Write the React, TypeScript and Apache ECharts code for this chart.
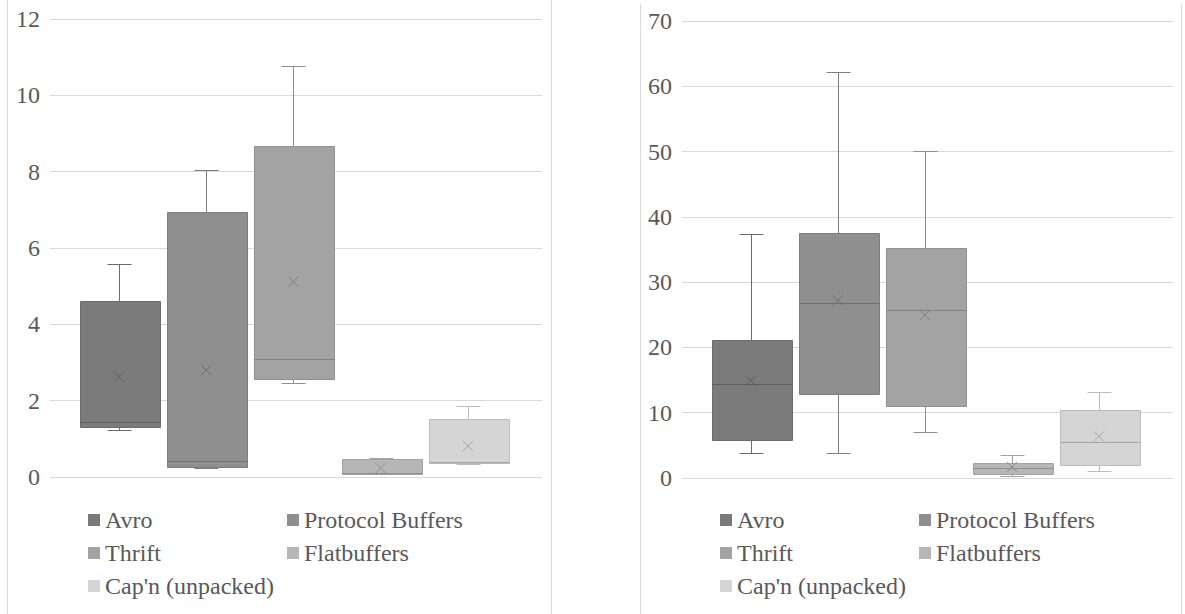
import React, { useEffect, useRef } from "react";
import * as echarts from "echarts";

// ---- data ----
const formats = ["Avro", "Protocol Buffers", "Thrift", "Flatbuffers", "Cap'n (unpacked)"];

// left chart
const leftMin = [1.23, 0.24, 2.46, 0.07, 0.33];
const leftQ1 = [1.32, 0.25, 2.57, 0.09, 0.36];
const leftMedian = [1.43, 0.42, 3.09, 0.11, 0.4];
const leftQ3 = [4.6, 6.95, 8.68, 0.47, 1.51];
const leftMax = [5.57, 8.05, 10.76, 0.51, 1.86];
const leftMean = [2.63, 2.8, 5.12, 0.23, 0.81];

// right chart
const rightMin = [3.87, 3.77, 7.0, 0.29, 1.02];
const rightQ1 = [5.86, 12.8, 11.06, 0.6, 1.94];
const rightMedian = [14.33, 26.8, 25.7, 1.47, 5.46];
const rightQ3 = [21.1, 37.5, 35.2, 2.34, 10.35];
const rightMax = [37.3, 62.2, 50.1, 3.47, 13.1];
const rightMean = [14.9, 27.2, 24.95, 1.68, 6.37];

// ---- styles ----
const fills = ["#7b7b7b", "#8f8f8f", "#a3a3a3", "#b6b6b6", "#d5d5d5"];
const borders = ["#6c6c6c", "#7e7e7e", "#909090", "#a2a2a2", "#bcbcbc"];
const markColors = ["#5f5f5f", "#6e6e6e", "#808080", "#8e8e8e", "#a5a5a5"];
const textColor = "#595959";
const gridColor = "#d9d9d9";
const fontFamily = "Liberation Serif, serif";
const fontSize = 24;

function makeRender(k: number) {
  return (params: any, api: any) => {
    const x = api.value(0);
    const c = (i: number) => api.coord([x, api.value(i)]);
    const pMin = c(1), pQ1 = c(2), pMed = c(3), pQ3 = c(4), pMax = c(5), pMean = c(6);
    const unit = api.size([1, 0])[0];
    const bw = Math.round(unit * 0.92);
    const cw = Math.round(unit * 0.28);
    const cx = Math.round(pMin[0]) + 0.5;
    const sy = (v: number) => Math.round(v) + 0.5;
    const yMin = sy(pMin[1]), yQ1 = sy(pQ1[1]), yMed = sy(pMed[1]), yQ3 = sy(pQ3[1]), yMax = sy(pMax[1]);
    const mx = pMean[0], my = pMean[1];
    const stroke = borders[k];
    const ls = { stroke, lineWidth: 1, fill: null };
    const ms = { stroke: markColors[k], lineWidth: 1, fill: null };
    const left = Math.round(cx - bw / 2) + 0.5;
    return {
      type: "group",
      children: [
        { type: "line", shape: { x1: cx, y1: yMax, x2: cx, y2: yQ3 }, style: ls },
        { type: "line", shape: { x1: cx, y1: yQ1, x2: cx, y2: yMin }, style: ls },
        { type: "line", shape: { x1: cx - cw / 2, y1: yMax, x2: cx + cw / 2, y2: yMax }, style: ls },
        { type: "line", shape: { x1: cx - cw / 2, y1: yMin, x2: cx + cw / 2, y2: yMin }, style: ls },
        {
          type: "rect",
          shape: { x: left, y: yQ3, width: bw, height: yQ1 - yQ3 },
          style: { fill: fills[k], stroke, lineWidth: 1 },
        },
        { type: "line", shape: { x1: left, y1: yMed, x2: left + bw, y2: yMed }, style: ms },
        { type: "line", shape: { x1: mx - 5, y1: my - 5, x2: mx + 5, y2: my + 5 }, style: ms },
        { type: "line", shape: { x1: mx + 5, y1: my - 5, x2: mx - 5, y2: my + 5 }, style: ms },
      ],
    };
  };
}

function buildSeries(
  axisIndex: number,
  mins: number[], q1s: number[], meds: number[], q3s: number[], maxs: number[], means: number[]
) {
  return formats.map((name, k) => ({
    type: "custom",
    name,
    xAxisIndex: axisIndex,
    yAxisIndex: axisIndex,
    itemStyle: { color: fills[k], borderColor: borders[k] },
    encode: { x: 0, y: [1, 2, 3, 4, 5, 6] },
    renderItem: makeRender(k),
    data: [[k + 1, mins[k], q1s[k], meds[k], q3s[k], maxs[k], means[k]]],
  }));
}

function legendAt(left: number, names: string[]) {
  return {
    left,
    top: 508,
    orient: "vertical",
    padding: 0,
    itemGap: 9,
    itemWidth: 12,
    itemHeight: 12,
    icon: "rect",
    selectedMode: false,
    data: names,
    textStyle: { color: textColor, fontFamily, fontSize, padding: [0, 0, 0, 0] },
  };
}

export default function App() {
  const ref = useRef<HTMLDivElement>(null);
  useEffect(() => {
    if (!ref.current) return;
    const chart = echarts.init(ref.current, null, { renderer: "svg" });
    const yLabel = { color: textColor, fontFamily, fontSize, margin: 10 };
    const col1 = [formats[0], formats[2], formats[4]];
    const col2 = [formats[1], formats[3]];
    chart.setOption({
      animation: false,
      backgroundColor: "#ffffff",
      textStyle: { fontFamily },
      grid: [
        { left: 50, top: 19, width: 492, height: 458 },
        { left: 682, top: 21, width: 491, height: 457 },
      ],
      xAxis: [
        { type: "value", gridIndex: 0, min: 0.21, max: 5.85, show: false },
        { type: "value", gridIndex: 1, min: 0.21, max: 5.85, show: false },
      ],
      yAxis: [
        {
          type: "value", gridIndex: 0, min: 0, max: 12, interval: 2,
          axisLine: { show: false }, axisTick: { show: false },
          axisLabel: yLabel,
          splitLine: { lineStyle: { color: gridColor, width: 1 } },
        },
        {
          type: "value", gridIndex: 1, min: 0, max: 70, interval: 10,
          axisLine: { show: false }, axisTick: { show: false },
          axisLabel: yLabel,
          splitLine: { lineStyle: { color: gridColor, width: 1 } },
        },
      ],
      legend: [legendAt(88, col1), legendAt(287, col2), legendAt(720, col1), legendAt(919, col2)],
      graphic: [
        { type: "line", shape: { x1: 7.5, y1: 0, x2: 7.5, y2: 614 }, style: { stroke: gridColor, lineWidth: 1 } },
        { type: "line", shape: { x1: 551.5, y1: 0, x2: 551.5, y2: 614 }, style: { stroke: gridColor, lineWidth: 1 } },
        { type: "line", shape: { x1: 640.5, y1: 4, x2: 640.5, y2: 614 }, style: { stroke: gridColor, lineWidth: 1 } },
        { type: "line", shape: { x1: 1181.5, y1: 4, x2: 1181.5, y2: 614 }, style: { stroke: gridColor, lineWidth: 1 } },
      ],
      series: [
        ...buildSeries(0, leftMin, leftQ1, leftMedian, leftQ3, leftMax, leftMean),
        ...buildSeries(1, rightMin, rightQ1, rightMedian, rightQ3, rightMax, rightMean),
      ],
    });
    return () => chart.dispose();
  }, []);
  return (
    <div
      ref={ref}
      style={{ position: "fixed", left: 0, top: 0, width: 1185, height: 614, background: "#fff" }}
    />
  );
}
